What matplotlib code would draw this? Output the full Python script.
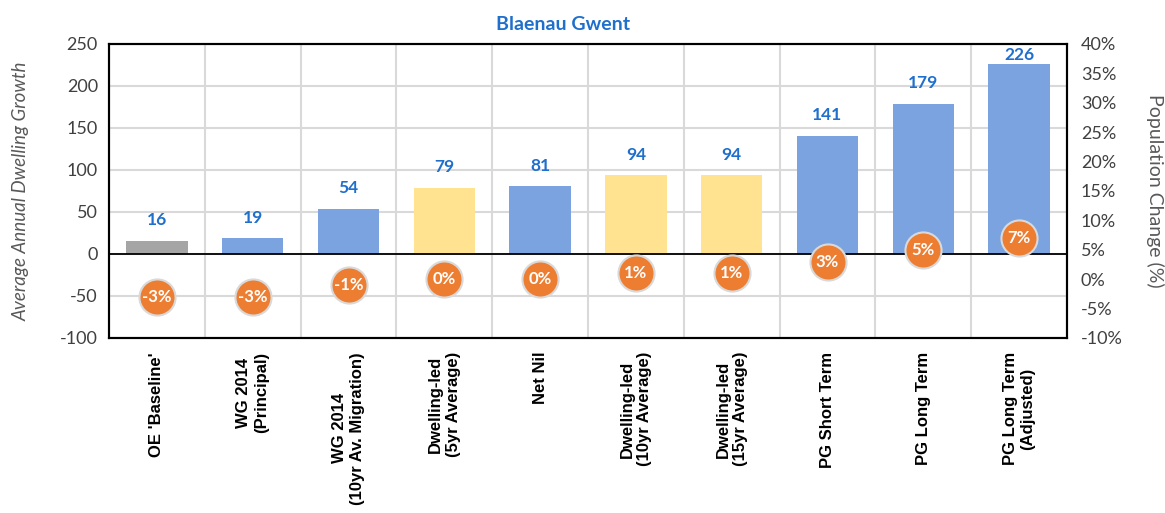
import matplotlib.pyplot as plt
import numpy as np

categories = ["OE 'Baseline'", "WG 2014\n(Principal)", "WG 2014\n(10yr Av. Migration)",
              "Dwelling-led\n(5yr Average)", "Net Nil", "Dwelling-led\n(10yr Average)",
              "Dwelling-led\n(15yr Average)", "PG Short Term", "PG Long Term",
              "PG Long Term\n(Adjusted)"]
dwellings = [16, 19, 54, 79, 81, 94, 94, 141, 179, 226]
pop_change = [-3, -3, -1, 0, 0, 1, 1, 3, 5, 7]
bar_kind = ["grey", "blue", "blue", "yellow", "blue", "yellow", "yellow", "blue", "blue", "blue"]

colours = {"grey": "#A5A5A5", "blue": "#7BA3DF", "yellow": "#FFE391"}
label_blue = "#1F6FCC"
orange = "#ED7D31"

plt.rcParams['font.family'] = ['Lato', 'DejaVu Sans']
plt.rcParams['axes.unicode_minus'] = False

fig = plt.figure(figsize=(11.65, 5.13), dpi=100)
ax = fig.add_axes([109/1165, 1 - 338/513, (1067-109)/1165, (338-44)/513])
ax2 = ax.twinx()

x = np.arange(len(categories))
ax.bar(x, dwellings, width=0.64, color=[colours[k] for k in bar_kind], zorder=3)
ax.axhline(0, color="black", lw=1.3, zorder=4)

for xi, v in zip(x, dwellings):
    ax.text(xi, min(v + 24, 237), str(v), ha="center", va="center",
            color=label_blue, fontsize=12.5, fontweight="bold", zorder=5)

ax.set_xlim(-0.5, len(categories) - 0.5)
ax.set_ylim(-100, 250)
ax.set_yticks(np.arange(-100, 251, 50))
ax.set_xticks(x)
ax.set_xticklabels(categories, rotation=90, ha="center", va="top", multialignment="center",
                   fontsize=12, fontweight="bold", family=["Liberation Sans", "DejaVu Sans"])
ax.set_xticks(np.arange(-0.5, len(categories), 1), minor=True)
ax.grid(True, which="minor", axis="x", color="#D9D9D9", lw=1.5, zorder=0)
ax.grid(True, which="major", axis="y", color="#D9D9D9", lw=1.5, zorder=0)
ax.tick_params(axis="both", which="both", length=0)
ax.tick_params(axis="y", labelsize=13, labelcolor="#404040", pad=8)
ax.tick_params(axis="x", pad=10)
ax.set_ylabel("Average Annual Dwelling Growth", fontsize=13.5, style="italic", color="#595959", labelpad=22)
for s in ax.spines.values():
    s.set_linewidth(1.5)
for s in ax2.spines.values():
    s.set_linewidth(1.5)

ax2.set_ylim(-10, 40)
ax2.set_yticks(np.arange(-10, 41, 5))
ax2.set_yticklabels([f"{t}%" for t in range(-10, 41, 5)])
ax2.tick_params(axis="y", length=0, labelsize=13, labelcolor="#404040", pad=10)
ax2.set_ylabel("Population Change (%)", fontsize=14, color="#595959", rotation=270, labelpad=30)
ax2.plot(x, pop_change, "o", ms=26, color=orange, mec="#D9D9D9", mew=1.5, zorder=6)
for xi, p in zip(x, pop_change):
    ax2.text(xi, p, f"{p}%", ha="center", va="center", color="white",
             fontsize=12, fontweight="bold", zorder=7)

fig.text(563/1165, 1 - 25/513, "Blaenau Gwent", ha="center", va="center",
         fontsize=14, fontweight="bold", color=label_blue)

fig.savefig("out.png", dpi=100)
